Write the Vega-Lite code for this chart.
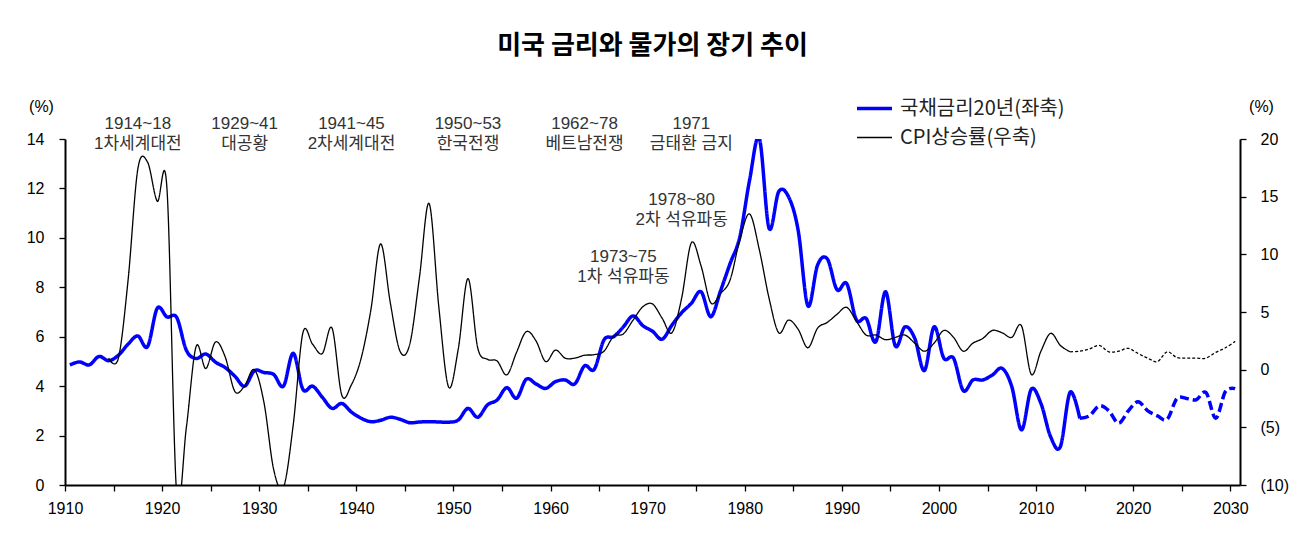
{
  "$schema": "https://vega.github.io/schema/vega-lite/v6.json",
  "width": 1175,
  "height": 346,
  "autosize": "none",
  "padding": {"left": 65, "top": 139, "right": 72, "bottom": 54},
  "background": "#ffffff",
  "title": {"text": "미국 금리와 물가의 장기 추이", "font": "Noto Sans CJK KR", "fontSize": 26, "fontWeight": "bold", "color": "#000000", "anchor": "middle", "offset": 30},
  "config": {
    "view": {"stroke": null},
    "axis": {"grid": false, "domainColor": "#000000", "domainWidth": 2, "tickColor": "#000000", "tickWidth": 1.3, "tickSize": 6, "labelFont": "Liberation Sans", "labelColor": "#000000"},
    "legend": {"orient": "none", "legendX": 790, "legendY": -50, "title": null, "symbolType": "stroke", "symbolSize": 1225, "labelFont": "Noto Sans CJK KR", "labelFontSize": 20, "labelColor": "#222222", "labelOffset": 6, "labelLimit": 400, "rowPadding": -6}
  },
  "datasets": {
    "rate": [
      {"y":"1910","v":4.86,"k":"a"},{"y":"1911","v":4.98,"k":"a"},{"y":"1912","v":4.86,"k":"a"},{"y":"1913","v":5.2,"k":"a"},{"y":"1914","v":5.03,"k":"a"},
      {"y":"1915","v":5.25,"k":"a"},{"y":"1916","v":5.7,"k":"a"},{"y":"1917","v":6.03,"k":"a"},{"y":"1918","v":5.6,"k":"a"},{"y":"1919","v":7.15,"k":"a"},
      {"y":"1920","v":6.8,"k":"a"},{"y":"1921","v":6.78,"k":"a"},{"y":"1922","v":5.45,"k":"a"},{"y":"1923","v":5.12,"k":"a"},{"y":"1924","v":5.3,"k":"a"},
      {"y":"1925","v":4.97,"k":"a"},{"y":"1926","v":4.75,"k":"a"},{"y":"1927","v":4.4,"k":"a"},{"y":"1928","v":4.0,"k":"a"},{"y":"1929","v":4.62,"k":"a"},
      {"y":"1930","v":4.55,"k":"a"},{"y":"1931","v":4.47,"k":"a"},{"y":"1932","v":4.0,"k":"a"},{"y":"1933","v":5.33,"k":"a"},{"y":"1934","v":3.87,"k":"a"},
      {"y":"1935","v":4.0,"k":"a"},{"y":"1936","v":3.55,"k":"a"},{"y":"1937","v":3.1,"k":"a"},{"y":"1938","v":3.3,"k":"a"},{"y":"1939","v":2.95,"k":"a"},
      {"y":"1940","v":2.7,"k":"a"},{"y":"1941","v":2.56,"k":"a"},{"y":"1942","v":2.62,"k":"a"},{"y":"1943","v":2.74,"k":"a"},{"y":"1944","v":2.66,"k":"a"},
      {"y":"1945","v":2.52,"k":"a"},{"y":"1946","v":2.55,"k":"a"},{"y":"1947","v":2.56,"k":"a"},{"y":"1948","v":2.55,"k":"a"},{"y":"1949","v":2.54,"k":"a"},
      {"y":"1950","v":2.63,"k":"a"},{"y":"1951","v":3.1,"k":"a"},{"y":"1952","v":2.74,"k":"a"},{"y":"1953","v":3.24,"k":"a"},{"y":"1954","v":3.44,"k":"a"},
      {"y":"1955","v":3.94,"k":"a"},{"y":"1956","v":3.51,"k":"a"},{"y":"1957","v":4.28,"k":"a"},{"y":"1958","v":4.09,"k":"a"},{"y":"1959","v":3.91,"k":"a"},
      {"y":"1960","v":4.18,"k":"a"},{"y":"1961","v":4.25,"k":"a"},{"y":"1962","v":4.09,"k":"a"},{"y":"1963","v":4.82,"k":"a"},{"y":"1964","v":4.68,"k":"a"},
      {"y":"1965","v":5.87,"k":"a"},{"y":"1966","v":6.0,"k":"a"},{"y":"1967","v":6.4,"k":"a"},{"y":"1968","v":6.84,"k":"a"},{"y":"1969","v":6.45,"k":"a"},
      {"y":"1970","v":6.22,"k":"a"},{"y":"1971","v":5.9,"k":"a"},{"y":"1972","v":6.47,"k":"a"},{"y":"1973","v":6.97,"k":"a"},{"y":"1974","v":7.35,"k":"a"},
      {"y":"1975","v":7.82,"k":"a"},{"y":"1976","v":6.81,"k":"a"},{"y":"1977","v":7.85,"k":"a"},{"y":"1978","v":8.97,"k":"a"},{"y":"1979","v":10.05,"k":"a"},
      {"y":"1980","v":12.34,"k":"a"},{"y":"1981","v":14.03,"k":"a"},{"y":"1982","v":10.39,"k":"a"},{"y":"1983","v":11.87,"k":"a"},{"y":"1984","v":11.67,"k":"a"},
      {"y":"1985","v":10.3,"k":"a"},{"y":"1986","v":7.25,"k":"a"},{"y":"1987","v":8.9,"k":"a"},{"y":"1988","v":9.15,"k":"a"},{"y":"1989","v":7.9,"k":"a"},
      {"y":"1990","v":8.15,"k":"a"},{"y":"1991","v":6.68,"k":"a"},{"y":"1992","v":6.74,"k":"a"},{"y":"1993","v":5.8,"k":"a"},{"y":"1994","v":7.82,"k":"a"},
      {"y":"1995","v":5.63,"k":"a"},{"y":"1996","v":6.4,"k":"a"},{"y":"1997","v":5.94,"k":"a"},{"y":"1998","v":4.63,"k":"a"},{"y":"1999","v":6.4,"k":"a"},
      {"y":"2000","v":5.13,"k":"a"},{"y":"2001","v":5.13,"k":"a"},{"y":"2002","v":3.82,"k":"a"},{"y":"2003","v":4.25,"k":"a"},{"y":"2004","v":4.25,"k":"a"},
      {"y":"2005","v":4.45,"k":"a"},{"y":"2006","v":4.72,"k":"a"},{"y":"2007","v":3.98,"k":"a"},{"y":"2008","v":2.23,"k":"a"},{"y":"2009","v":3.87,"k":"a"},
      {"y":"2010","v":3.3,"k":"a"},{"y":"2011","v":1.95,"k":"a"},{"y":"2012","v":1.55,"k":"a"},{"y":"2013","v":3.75,"k":"a"},{"y":"2014","v":2.7,"k":"a"},
      {"y":"2014","v":2.7,"k":"f"},{"y":"2015","v":2.8,"k":"f"},{"y":"2016","v":3.2,"k":"f"},{"y":"2017","v":3.0,"k":"f"},{"y":"2018","v":2.5,"k":"f"},
      {"y":"2019","v":3.0,"k":"f"},{"y":"2020","v":3.37,"k":"f"},{"y":"2021","v":3.0,"k":"f"},{"y":"2022","v":2.8,"k":"f"},{"y":"2023","v":2.66,"k":"f"},
      {"y":"2024","v":3.5,"k":"f"},{"y":"2025","v":3.5,"k":"f"},{"y":"2026","v":3.45,"k":"f"},{"y":"2027","v":3.74,"k":"f"},{"y":"2028","v":2.7,"k":"f"},
      {"y":"2029","v":3.78,"k":"f"},{"y":"2030","v":3.9,"k":"f"}
    ],
    "cpi": [
      {"y":"1914","v":1.0,"k":"a"},{"y":"1915","v":1.0,"k":"a"},{"y":"1916","v":7.8,"k":"a"},{"y":"1917","v":17.4,"k":"a"},{"y":"1918","v":18.0,"k":"a"},
      {"y":"1919","v":14.6,"k":"a"},{"y":"1920","v":15.7,"k":"a"},{"y":"1921","v":-10.8,"k":"a"},{"y":"1922","v":-5.0,"k":"a"},{"y":"1923","v":2.0,"k":"a"},
      {"y":"1924","v":0.1,"k":"a"},{"y":"1925","v":2.4,"k":"a"},{"y":"1926","v":1.1,"k":"a"},{"y":"1927","v":-1.9,"k":"a"},{"y":"1928","v":-1.4,"k":"a"},
      {"y":"1929","v":0.0,"k":"a"},{"y":"1930","v":-2.9,"k":"a"},{"y":"1931","v":-8.7,"k":"a"},{"y":"1932","v":-10.2,"k":"a"},{"y":"1933","v":-4.8,"k":"a"},
      {"y":"1934","v":3.2,"k":"a"},{"y":"1935","v":2.2,"k":"a"},{"y":"1936","v":1.4,"k":"a"},{"y":"1937","v":3.6,"k":"a"},{"y":"1938","v":-2.2,"k":"a"},
      {"y":"1939","v":-1.3,"k":"a"},{"y":"1940","v":1.0,"k":"a"},{"y":"1941","v":5.2,"k":"a"},{"y":"1942","v":10.9,"k":"a"},{"y":"1943","v":5.8,"k":"a"},
      {"y":"1944","v":1.6,"k":"a"},{"y":"1945","v":2.2,"k":"a"},{"y":"1946","v":8.0,"k":"a"},{"y":"1947","v":14.4,"k":"a"},{"y":"1948","v":5.4,"k":"a"},
      {"y":"1949","v":-1.5,"k":"a"},{"y":"1950","v":1.8,"k":"a"},{"y":"1951","v":7.9,"k":"a"},{"y":"1952","v":1.9,"k":"a"},{"y":"1953","v":0.9,"k":"a"},
      {"y":"1954","v":0.75,"k":"a"},{"y":"1955","v":-0.45,"k":"a"},{"y":"1956","v":1.5,"k":"a"},{"y":"1957","v":3.3,"k":"a"},{"y":"1958","v":2.5,"k":"a"},
      {"y":"1959","v":0.7,"k":"a"},{"y":"1960","v":1.7,"k":"a"},{"y":"1961","v":1.0,"k":"a"},{"y":"1962","v":1.0,"k":"a"},{"y":"1963","v":1.25,"k":"a"},
      {"y":"1964","v":1.3,"k":"a"},{"y":"1965","v":1.6,"k":"a"},{"y":"1966","v":2.9,"k":"a"},{"y":"1967","v":3.1,"k":"a"},{"y":"1968","v":4.3,"k":"a"},
      {"y":"1969","v":5.45,"k":"a"},{"y":"1970","v":5.7,"k":"a"},{"y":"1971","v":4.45,"k":"a"},{"y":"1972","v":3.2,"k":"a"},{"y":"1973","v":6.2,"k":"a"},
      {"y":"1974","v":11.0,"k":"a"},{"y":"1975","v":9.0,"k":"a"},{"y":"1976","v":5.8,"k":"a"},{"y":"1977","v":6.6,"k":"a"},{"y":"1978","v":7.8,"k":"a"},
      {"y":"1979","v":11.3,"k":"a"},{"y":"1980","v":13.5,"k":"a"},{"y":"1981","v":10.4,"k":"a"},{"y":"1982","v":6.2,"k":"a"},{"y":"1983","v":3.2,"k":"a"},
      {"y":"1984","v":4.3,"k":"a"},{"y":"1985","v":3.5,"k":"a"},{"y":"1986","v":1.9,"k":"a"},{"y":"1987","v":3.6,"k":"a"},{"y":"1988","v":4.1,"k":"a"},
      {"y":"1989","v":4.8,"k":"a"},{"y":"1990","v":5.4,"k":"a"},{"y":"1991","v":4.2,"k":"a"},{"y":"1992","v":3.0,"k":"a"},{"y":"1993","v":3.0,"k":"a"},
      {"y":"1994","v":2.6,"k":"a"},{"y":"1995","v":2.8,"k":"a"},{"y":"1996","v":3.0,"k":"a"},{"y":"1997","v":2.3,"k":"a"},{"y":"1998","v":1.6,"k":"a"},
      {"y":"1999","v":2.3,"k":"a"},{"y":"2000","v":3.4,"k":"a"},{"y":"2001","v":2.8,"k":"a"},{"y":"2002","v":1.6,"k":"a"},{"y":"2003","v":2.3,"k":"a"},
      {"y":"2004","v":2.7,"k":"a"},{"y":"2005","v":3.4,"k":"a"},{"y":"2006","v":3.2,"k":"a"},{"y":"2007","v":2.8,"k":"a"},{"y":"2008","v":3.8,"k":"a"},
      {"y":"2009","v":-0.4,"k":"a"},{"y":"2010","v":1.6,"k":"a"},{"y":"2011","v":3.15,"k":"a"},{"y":"2012","v":2.1,"k":"a"},{"y":"2013","v":1.55,"k":"a"},
      {"y":"2013","v":1.55,"k":"f"},{"y":"2014","v":1.6,"k":"f"},{"y":"2015","v":1.8,"k":"f"},{"y":"2016","v":2.1,"k":"f"},{"y":"2017","v":1.55,"k":"f"},
      {"y":"2018","v":1.6,"k":"f"},{"y":"2019","v":1.85,"k":"f"},{"y":"2020","v":1.4,"k":"f"},{"y":"2021","v":1.0,"k":"f"},{"y":"2022","v":0.7,"k":"f"},
      {"y":"2023","v":1.55,"k":"f"},{"y":"2024","v":1.05,"k":"f"},{"y":"2025","v":1.0,"k":"f"},{"y":"2026","v":1.0,"k":"f"},{"y":"2027","v":1.0,"k":"f"},
      {"y":"2028","v":1.5,"k":"f"},{"y":"2029","v":1.9,"k":"f"},{"y":"2030","v":2.45,"k":"f"}
    ],
    "notes": [
      {"y":"1917","v":14.59,"t":"1914~18"},{"y":"1917","v":13.78,"t":"1차세계대전"},
      {"y":"1928","v":14.59,"t":"1929~41"},{"y":"1928","v":13.78,"t":"대공황"},
      {"y":"1939","v":14.59,"t":"1941~45"},{"y":"1939","v":13.78,"t":"2차세계대전"},
      {"y":"1951","v":14.59,"t":"1950~53"},{"y":"1951","v":13.78,"t":"한국전쟁"},
      {"y":"1963","v":14.59,"t":"1962~78"},{"y":"1963","v":13.78,"t":"베트남전쟁"},
      {"y":"1974","v":14.59,"t":"1971"},{"y":"1974","v":13.78,"t":"금태환 금지"},
      {"y":"1973","v":11.55,"t":"1978~80"},{"y":"1973","v":10.74,"t":"2차 석유파동"},
      {"y":"1967","v":9.21,"t":"1973~75"},{"y":"1967","v":8.40,"t":"1차 석유파동"}
    ]
  },
  "encoding": {
    "x": {
      "field": "y", "type": "temporal", "timeUnit": "utcyear", "bandPosition": 0.5,
      "scale": {"domain": [{"year": 1910, "utc": true}, {"year": 2031, "utc": true}], "nice": false},
      "axis": {"title": null, "tickCount": {"interval": "year", "step": 5}, "labelExpr": "utcyear(datum.value) % 10 == 0 ? utcFormat(datum.value, '%Y') : ''", "labelFontSize": 16, "labelPadding": 9, "labelOverlap": false, "labelFlush": false}
    }
  },
  "layer": [
    {
      "layer": [
        {
          "data": {"name": "rate"},
          "mark": {"type": "line", "interpolate": "cardinal", "clip": true},
          "encoding": {
            "y": {"field": "v", "type": "quantitative", "scale": {"domain": [0, 14], "nice": false, "zero": false},
              "axis": {"values": [0, 2, 4, 6, 8, 10, 12, 14], "title": "(%)", "titleAngle": 0, "titleX": -24, "titleY": -33, "titleAlign": "center", "titleBaseline": "middle", "titleFont": "Liberation Sans", "titleFontSize": 16, "titleFontWeight": "normal", "titleColor": "#000000", "labelFontSize": 16, "labelPadding": 15}},
            "color": {"datum": "국채금리20년(좌축)", "type": "ordinal", "scale": {"domain": ["국채금리20년(좌축)", "CPI상승률(우축)"], "range": ["#0000ff", "#000000"]}},
            "strokeWidth": {"datum": "국채금리20년(좌축)", "type": "ordinal", "scale": {"domain": ["국채금리20년(좌축)", "CPI상승률(우축)"], "range": [3.5, 1.3]}},
            "strokeDash": {"field": "k", "type": "nominal", "scale": {"domain": ["a", "f"], "range": [[1, 0], [9, 4]]}, "legend": null}
          }
        },
        {
          "data": {"name": "notes"},
          "mark": {"type": "text", "font": "Liberation Sans, Noto Sans CJK KR", "fontSize": 17, "color": "#333333", "align": "center", "baseline": "middle"},
          "encoding": {
            "y": {"field": "v", "type": "quantitative",
              "axis": {"values": [0, 2, 4, 6, 8, 10, 12, 14], "title": "(%)", "titleAngle": 0, "titleX": -24, "titleY": -33, "titleAlign": "center", "titleBaseline": "middle", "titleFont": "Liberation Sans", "titleFontSize": 16, "titleFontWeight": "normal", "titleColor": "#000000", "labelFontSize": 16, "labelPadding": 15}},
            "text": {"field": "t"}
          }
        }
      ]
    },
    {
      "data": {"name": "cpi"},
      "mark": {"type": "line", "interpolate": "cardinal", "clip": true},
      "encoding": {
        "y": {"field": "v", "type": "quantitative", "scale": {"domain": [-10, 20], "nice": false, "zero": false},
          "axis": {"orient": "right", "values": [-10, -5, 0, 5, 10, 15, 20], "labelExpr": "datum.value < 0 ? '(' + abs(datum.value) + ')' : datum.label", "title": "(%)", "titleAngle": 0, "titleX": 21, "titleY": -33, "titleAlign": "center", "titleBaseline": "middle", "titleFont": "Liberation Sans", "titleFontSize": 16, "titleFontWeight": "normal", "titleColor": "#000000", "labelFontSize": 16, "labelPadding": 14}},
        "color": {"datum": "CPI상승률(우축)", "type": "ordinal", "scale": {"domain": ["국채금리20년(좌축)", "CPI상승률(우축)"], "range": ["#0000ff", "#000000"]}},
        "strokeWidth": {"datum": "CPI상승률(우축)", "type": "ordinal", "scale": {"domain": ["국채금리20년(좌축)", "CPI상승률(우축)"], "range": [3.5, 1.3]}},
        "strokeDash": {"field": "k", "type": "nominal", "scale": {"domain": ["a", "f"], "range": [[1, 0], [3, 2]]}, "legend": null}
      }
    }
  ],
  "resolve": {"scale": {"y": "independent", "strokeDash": "independent"}}
}
